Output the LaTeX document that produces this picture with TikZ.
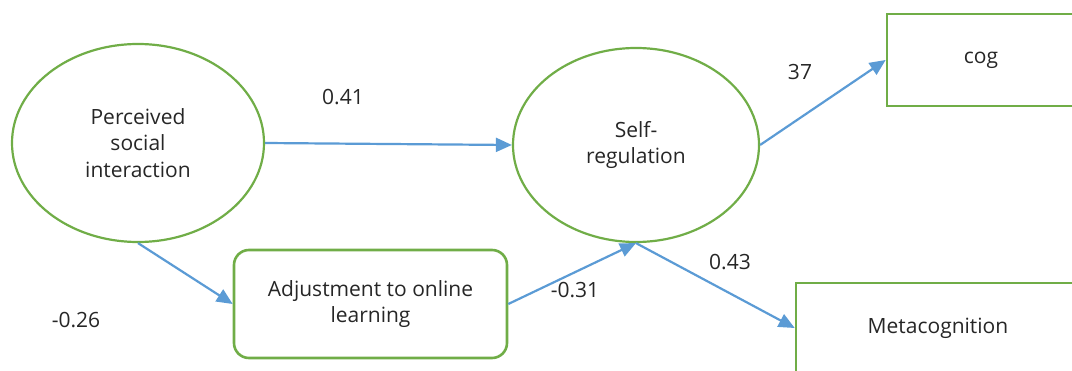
\documentclass[tikz,border=0pt]{standalone}
\usepackage{fontspec}
\setmainfont{Open Sans}
\usetikzlibrary{shapes.geometric, arrows.meta}
\definecolor{boxgreen}{HTML}{70AD47}
\definecolor{pathblue}{HTML}{5B9BD5}
\definecolor{txtgray}{HTML}{262626}

\newcommand{\PicW}{1072}
\newcommand{\PicH}{370}
\newcommand{\TxtFont}{\fontsize{21}{26.5}\selectfont}

\tikzset{
    latent/.style={ellipse, draw=boxgreen, line width=2.2pt, align=center,
        text=txtgray, font=\TxtFont, inner sep=0pt},
    observed/.style={rectangle, draw=boxgreen, line width=2.6pt, align=center,
        text=txtgray, font=\TxtFont, inner sep=0pt},
    coef/.style={text=txtgray, font=\TxtFont, inner sep=0pt},
    path/.style={-{Triangle[length=16pt, width=14pt]}, draw=pathblue, fill=pathblue, line width=2.2pt}
}

\begin{document}
\begin{tikzpicture}[x=1pt, y=1pt]
    \useasboundingbox (0,0) rectangle (\PicW,\PicH);
    \clip (0,0) rectangle (\PicW,\PicH);

    \node [latent, minimum width=252, minimum height=198] (PSI) at (138,227) {Perceived\\social\\interaction};
    \node [latent, minimum width=246, minimum height=194] (SR) at (636,225) {Self-\\regulation};
    \node [observed, rounded corners=15, minimum width=273, minimum height=108] (ADJ) at (370.5,66) {Adjustment to online\\learning};
    \node [observed, minimum width=188, minimum height=92] (COG) at (981,310) {cog};
    \node [observed, minimum width=284, minimum height=90] (META) at (938,42) {Metacognition};

    \draw [path] (PSI.east) -- (SR.west);
    \draw [path] (PSI.south) -- (ADJ.west);
    \draw [path] (ADJ.east) -- (SR.south);
    \draw [path] (SR.south) -- (META.west);
    \draw [path] (SR.east) -- (COG.west);

    \node [coef] (c41) at (343,273) {0.41};
    \node [coef] (c26) at (76,50) {-0.26};
    \node [coef] (c31) at (575,80) {-0.31};
    \node [coef] (c43) at (730,108) {0.43};
    \node [coef] (c37) at (800,298) {37};
\end{tikzpicture}
\end{document}
